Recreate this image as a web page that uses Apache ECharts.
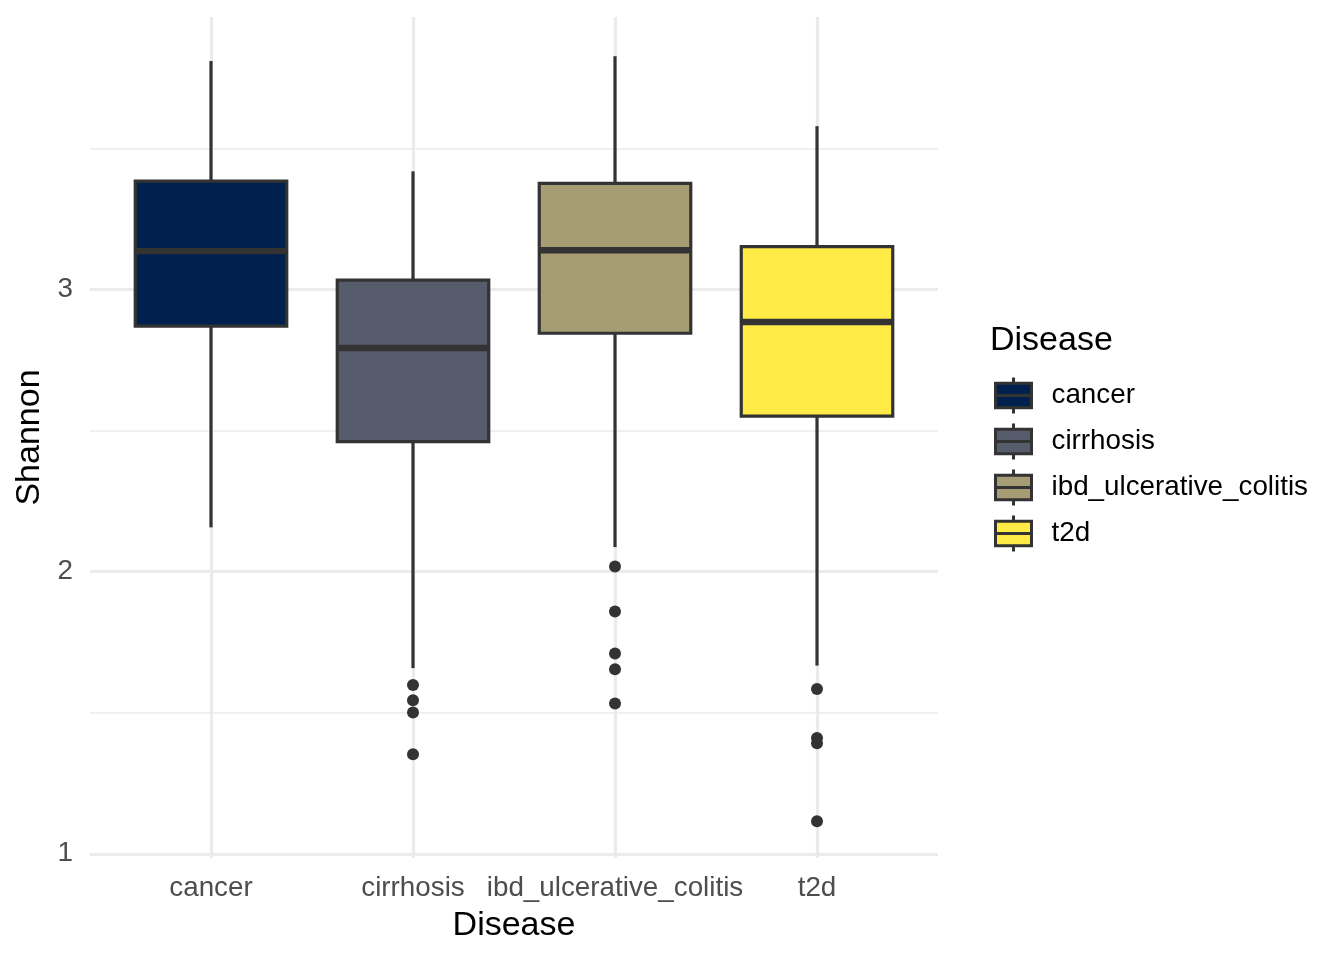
<!DOCTYPE html>
<html>
<head>
<meta charset="utf-8">
<script src="https://cdn.jsdelivr.net/npm/echarts@6/dist/echarts.min.js"></script>
<style>
html,body{margin:0;padding:0;background:#fff}
#main{width:1344px;height:960px}
</style>
</head>
<body>
<div id="main"></div>
<script>
// box statistics per disease
var diseases = ['cancer', 'cirrhosis', 'ibd_ulcerative_colitis', 't2d'];
var colors = ['#00204D', '#575C6D', '#A69D75', '#FFEA46'];
var whiskerLow = [2.157, 1.658, 2.087, 1.667];
var q1 = [2.870, 2.461, 2.845, 2.551];
var medians = [3.136, 2.793, 3.139, 2.885];
var q3 = [3.384, 3.033, 3.376, 3.152];
var whiskerHigh = [3.810, 3.419, 3.827, 3.579];
var outliers = [
	[],
	[1.598, 1.544, 1.501, 1.353],
	[2.018, 1.859, 1.710, 1.654, 1.533],
	[1.584, 1.410, 1.392, 1.115]
];
var yMin = 0.985, yMax = 3.966;

var font = "'Liberation Sans', Arial, sans-serif";

function renderBox(params, api) {
	var x = api.value(0);
	var lo = api.coord([x, api.value(1)]);
	var b1 = api.coord([x, api.value(2)]);
	var md = api.coord([x, api.value(3)]);
	var b3 = api.coord([x, api.value(4)]);
	var hi = api.coord([x, api.value(5)]);
	var w = api.size([1, 0])[0] * 0.75;
	var ln = { stroke: '#333333', lineWidth: 3.2 };
	return {
		type: 'group',
		children: [
			{ type: 'line', shape: { x1: lo[0], y1: lo[1], x2: b1[0], y2: b1[1] }, style: ln },
			{ type: 'line', shape: { x1: b3[0], y1: b3[1], x2: hi[0], y2: hi[1] }, style: ln },
			{ type: 'rect', shape: { x: b3[0] - w / 2, y: b3[1], width: w, height: b1[1] - b3[1] },
				style: { fill: api.visual('color'), stroke: '#333333', lineWidth: 3.2 } },
			{ type: 'line', shape: { x1: md[0] - w / 2, y1: md[1], x2: md[0] + w / 2, y2: md[1] },
				style: { stroke: '#333333', lineWidth: 6.4 } }
		]
	};
}

var series = [];
for (var i = 0; i < diseases.length; i++) {
	series.push({
		name: diseases[i],
		type: 'custom',
		xAxisIndex: 1,
		yAxisIndex: 2,
		renderItem: renderBox,
		itemStyle: { color: colors[i] },
		encode: { x: 0, y: [1, 2, 3, 4, 5] },
		data: [[i, whiskerLow[i], q1[i], medians[i], q3[i], whiskerHigh[i]]]
	});
}
var outlierData = [];
for (var i = 0; i < outliers.length; i++) {
	for (var j = 0; j < outliers[i].length; j++) {
		outlierData.push([i, outliers[i][j]]);
	}
}
series.push({
	name: 'outliers',
	type: 'scatter',
	xAxisIndex: 1,
	yAxisIndex: 2,
	symbolSize: 12,
	itemStyle: { color: '#333333', opacity: 1 },
	data: outlierData,
	z: 5
});

var myChart = echarts.init(document.getElementById('main'));
var option = {
	animation: false,
	backgroundColor: '#ffffff',
	textStyle: { fontFamily: font },
	title: {
		text: 'Disease',
		left: 990,
		top: 324,
		padding: 0,
		textStyle: { fontSize: 34, fontWeight: 'normal', color: '#000000', fontFamily: font }
	},
	legend: {
		orient: 'vertical',
		left: 994,
		top: 376,
		padding: 0,
		itemWidth: 38,
		itemHeight: 36,
		itemGap: 7,
		data: diseases,
		icon: 'path://M0,6L38,6L38,32L0,32Z M0,19L38,19 M19,0L19,6 M19,32L19,38',
		itemStyle: { borderColor: '#333333', borderWidth: 3 },
		textStyle: { fontSize: 27.8, color: '#000000', fontFamily: font, padding: [0, 0, 0, 14] },
		selectedMode: false
	},
	grid: [
		{ left: 90, width: 848, top: 17, height: 841 },
		{ left: 110, width: 808, top: 17, height: 841 }
	],
	xAxis: [
		{
			gridIndex: 0,
			type: 'value',
			min: 0.4,
			max: 4.6,
			splitNumber: 4,
			axisLine: { show: false },
			axisTick: { show: false },
			axisLabel: { show: false },
			splitLine: { show: true, showMinLine: false, showMaxLine: false,
				lineStyle: { color: '#EBEBEB', width: 3.2 } }
		},
		{
			gridIndex: 1,
			type: 'category',
			data: diseases,
			boundaryGap: true,
			axisLine: { show: false },
			axisTick: { show: false },
			splitLine: { show: false },
			axisLabel: { interval: 0, color: '#4D4D4D', fontSize: 27.8, margin: 16, fontFamily: font },
			name: 'Disease',
			nameLocation: 'middle',
			nameGap: 51,
			nameTextStyle: { fontSize: 34, color: '#000000', fontFamily: font }
		}
	],
	yAxis: [
		{
			gridIndex: 0,
			type: 'value',
			min: yMin,
			max: yMax,
			splitNumber: 3,
			axisLine: { show: false },
			axisTick: { show: false },
			axisLabel: { color: '#4D4D4D', fontSize: 27.8, margin: 17, fontFamily: font,
				showMinLabel: false, showMaxLabel: false },
			splitLine: { show: true, showMinLine: false, showMaxLine: false,
				lineStyle: { color: '#EBEBEB', width: 3.2 } },
			name: 'Shannon',
			nameLocation: 'middle',
			nameGap: 36,
			nameTextStyle: { fontSize: 34, color: '#000000', fontFamily: font }
		},
		{
			gridIndex: 0,
			type: 'value',
			min: yMin,
			max: yMax,
			splitNumber: 6,
			axisLine: { show: false },
			axisTick: { show: false },
			axisLabel: { show: false },
			splitLine: { show: true, showMinLine: false, showMaxLine: false,
				lineStyle: { color: '#EBEBEB', width: 1.6 } }
		},
		{
			gridIndex: 1,
			type: 'value',
			min: yMin,
			max: yMax,
			show: false,
			splitLine: { show: false }
		}
	],
	series: series
};
myChart.setOption(option);
</script>
</body>
</html>
